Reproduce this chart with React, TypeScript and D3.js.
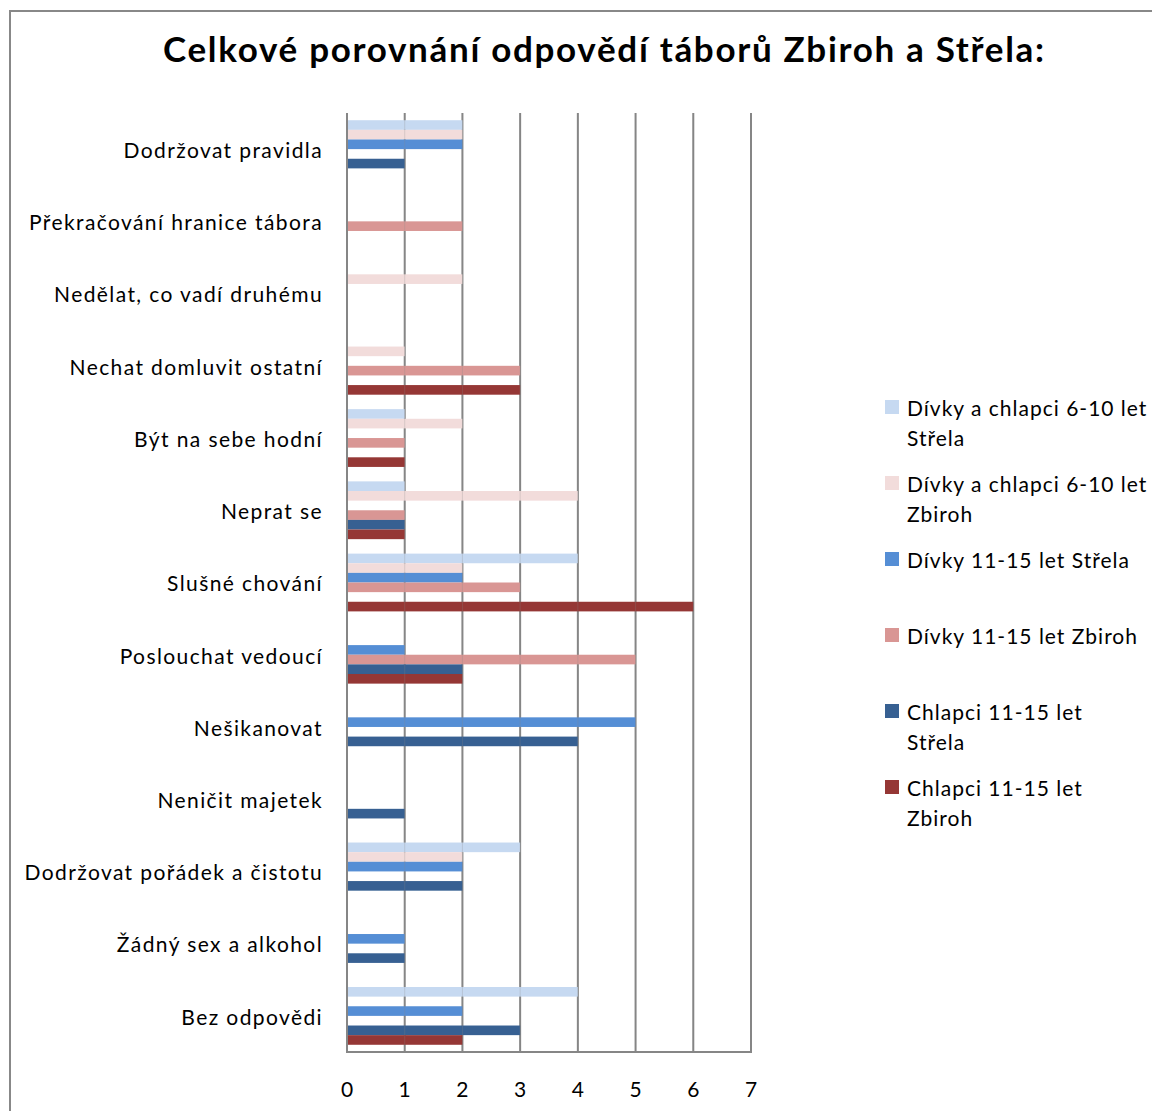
import React, { useEffect } from "react";
import * as d3 from "d3";

const title = "Celkové porovnání odpovědí táborů Zbiroh a Střela:";

const categories = [
  "Dodržovat pravidla",
  "Překračování hranice tábora",
  "Nedělat, co vadí druhému",
  "Nechat domluvit ostatní",
  "Být na sebe hodní",
  "Neprat se",
  "Slušné chování",
  "Poslouchat vedoucí",
  "Nešikanovat",
  "Neničit majetek",
  "Dodržovat pořádek a čistotu",
  "Žádný sex a alkohol",
  "Bez odpovědi",
];

const seriesNames = [
  "Dívky a chlapci 6-10 let Střela",
  "Dívky a chlapci 6-10 let Zbiroh",
  "Dívky 11-15 let Střela",
  "Dívky 11-15 let Zbiroh",
  "Chlapci 11-15 let Střela",
  "Chlapci 11-15 let Zbiroh",
];

const legendLines = [
  ["Dívky a chlapci 6-10 let", "Střela"],
  ["Dívky a chlapci 6-10 let", "Zbiroh"],
  ["Dívky 11-15 let Střela"],
  ["Dívky 11-15 let Zbiroh"],
  ["Chlapci 11-15 let", "Střela"],
  ["Chlapci 11-15 let", "Zbiroh"],
];

const seriesColors = ["#c6d9f1", "#f2dcdb", "#558ed5", "#d99694", "#376092", "#953735"];

const divkyChlapci610Strela = [2, 0, 0, 0, 1, 1, 4, 0, 0, 0, 3, 0, 4];
const divkyChlapci610Zbiroh = [2, 0, 2, 1, 2, 4, 2, 0, 0, 0, 2, 0, 0];
const divky1115Strela = [2, 0, 0, 0, 0, 0, 2, 1, 5, 0, 2, 1, 2];
const divky1115Zbiroh = [0, 2, 0, 3, 1, 1, 3, 5, 0, 0, 0, 0, 0];
const chlapci1115Strela = [1, 0, 0, 0, 0, 1, 0, 2, 4, 1, 2, 1, 3];
const chlapci1115Zbiroh = [0, 0, 0, 3, 1, 1, 6, 2, 0, 0, 0, 0, 2];

const seriesValues = [
  divkyChlapci610Strela,
  divkyChlapci610Zbiroh,
  divky1115Strela,
  divky1115Zbiroh,
  chlapci1115Strela,
  chlapci1115Zbiroh,
];

const xTicks = [0, 1, 2, 3, 4, 5, 6, 7];

const FONT = "Lato, 'Open Sans', sans-serif";

export default function App() {
  useEffect(() => {
    document.body.style.margin = "0";
  }, []);

  const W = 1152;
  const H = 1111;
  const left = 347;
  const right = 751;
  const top = 113;
  const bottom = 1052;

  const x = d3.scaleLinear().domain([0, 7]).range([left, right]);
  const y = d3
    .scaleBand<string>()
    .domain(categories)
    .range([top, bottom])
    .paddingInner(0)
    .paddingOuter(0);
  const bandH = y.bandwidth();
  // gap width 150% => band = 6b + 1.5b
  const barH = bandH / 7.5;
  const inner = d3
    .scaleBand<number>()
    .domain(d3.range(seriesNames.length))
    .range([0.75 * barH, 0.75 * barH + 6 * barH]);

  const gridColor = "#868686";

  const legendX = 885;
  const legendTop = 400;
  const legendStep = 76;

  return (
    <svg
      width={W}
      height={H}
      style={{ display: "block", position: "absolute", left: 0, top: 0, background: "#fff" }}
    >
      <rect x={10} y={11} width={W} height={H} fill="#fff" stroke="#888888" strokeWidth={2} />
      <text
        x={163}
        y={62}
        textLength={881}
        lengthAdjust="spacing"
        fontFamily={FONT}
        fontWeight="bold"
        fontSize={35}
        fill="#000"
      >
        {title}
      </text>

      {/* gridlines */}
      {xTicks.map((t) => (
        <line
          key={"g" + t}
          x1={x(t)}
          x2={x(t)}
          y1={top}
          y2={bottom}
          stroke={gridColor}
          strokeWidth={2}
        />
      ))}

      {/* bars */}
      {seriesValues.map((vals, si) =>
        vals.map((v, ci) =>
          v > 0 ? (
            <rect
              key={si + "-" + ci}
              x={x(0)}
              y={(y(categories[ci]) as number) + (inner(si) as number)}
              width={x(v) - x(0)}
              height={inner.bandwidth()}
              fill={seriesColors[si]}
            />
          ) : null
        )
      )}

      {/* faint gridlines over bars */}
      {xTicks.map((t) => (
        <line
          key={"go" + t}
          x1={x(t)}
          x2={x(t)}
          y1={top}
          y2={bottom}
          stroke={gridColor}
          strokeWidth={1}
          strokeOpacity={0.25}
        />
      ))}

      {/* axes */}
      <line x1={left} x2={left} y1={top} y2={bottom} stroke={gridColor} strokeWidth={2} />
      <line x1={left - 1} x2={right + 1} y1={bottom} y2={bottom} stroke={gridColor} strokeWidth={2} />

      {/* x tick labels */}
      {xTicks.map((t) => (
        <text
          key={"t" + t}
          x={x(t)}
          y={1097}
          textAnchor="middle"
          fontFamily={FONT}
          fontSize={21}
          fill="#000"
        >
          {t}
        </text>
      ))}

      {/* category labels */}
      {categories.map((c) => (
        <text
          key={c}
          x={323}
          y={(y(c) as number) + bandH / 2}
          dy="0.42em"
          textAnchor="end"
          fontFamily={FONT}
          fontSize={21}
          letterSpacing={1.4}
          fill="#000"
        >
          {c}
        </text>
      ))}

      {/* legend */}
      {legendLines.map((lines, i) => {
        const ly = legendTop + i * legendStep;
        return (
          <g key={"l" + i}>
            <rect x={legendX} y={ly} width={14} height={14} fill={seriesColors[i]} />
            {lines.map((ln, j) => (
              <text
                key={j}
                x={907}
                y={ly + 9 + j * 30}
                dy="0.35em"
                fontFamily={FONT}
                fontSize={21}
                letterSpacing={1.0}
                fill="#000"
              >
                {ln}
              </text>
            ))}
          </g>
        );
      })}
    </svg>
  );
}
